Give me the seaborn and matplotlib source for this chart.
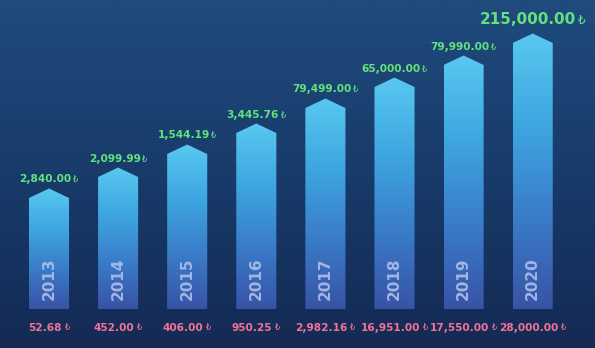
import numpy as np
import pandas as pd
import matplotlib
matplotlib.use("Agg")
import matplotlib.pyplot as plt
import seaborn as sns
from matplotlib.path import Path
from matplotlib.patches import PathPatch
from matplotlib.colors import LinearSegmentedColormap

# ---- data ----
years = ["2013", "2014", "2015", "2016", "2017", "2018", "2019", "2020"]
top_labels = ["2,840.00", "2,099.99", "1,544.19", "3,445.76", "79,499.00",
              "65,000.00", "79,990.00", "215,000.00"]
bottom_labels = ["52.68", "452.00", "406.00", "950.25", "2,982.16",
                 "16,951.00", "17,550.00", "28,000.00"]
# visual bar heights (staircase, as drawn in the picture)
bar_heights = [111, 132, 155, 176, 201, 222, 244, 266]
currency = "₺"

df = pd.DataFrame({"year": years, "height": bar_heights})

W, H = 595, 348
fig = plt.figure(figsize=(W / 100, H / 100), dpi=100)
ax = fig.add_axes([0, 0, 1, 1])

sns.barplot(data=df, x="year", y="height", ax=ax, width=0.58,
            color="#3b8fd6", saturation=1, zorder=2)

step = 69.1
x0 = -49 / step
x1 = x0 + W / step
ax.set_xlim(x0, x1)
ax.set_ylim(309 - H, 309)
ax.axis("off")

# background gradient
bg = LinearSegmentedColormap.from_list("bg", ["#1f4b7d", "#183b6a", "#142a54"])
grad = np.linspace(0, 1, 256).reshape(-1, 1)
ax.imshow(grad, aspect="auto", cmap=bg, extent=(x0, x1, 309 - H, 309),
          origin="upper", zorder=0)

bar_cmap = LinearSegmentedColormap.from_list(
    "bar", ["#58c8f0", "#3ea6e0", "#3a7cc8", "#3853a6"])
peak = 9.5

pairs = []
for i, p in enumerate(ax.patches):
    xl = p.get_x()
    w = p.get_width()
    h = p.get_height()
    p.set_visible(False)
    verts = [(xl, 0), (xl + w, 0), (xl + w, h), (xl + w / 2, h + peak),
             (xl, h), (xl, 0)]
    codes = [Path.MOVETO] + [Path.LINETO] * 4 + [Path.CLOSEPOLY]
    clip = PathPatch(Path(verts, codes), facecolor="none", edgecolor="none",
                     transform=ax.transData)
    ax.add_patch(clip)
    im = ax.imshow(grad, aspect="auto", cmap=bar_cmap,
                   extent=(xl, xl + w, 0, h + peak), origin="upper", zorder=3)
    im.set_clip_path(clip)

    cx = xl + w / 2
    big = i == len(years) - 1
    fs = 11 if big else 7.6
    ty = h + peak + (6 if big else 4)
    t1 = ax.text(cx, ty, top_labels[i], ha="left", va="bottom",
                 color="#62e27f", fontweight="bold", fontsize=fs, zorder=4)
    t2 = ax.text(cx, ty, currency, ha="left", va="bottom",
                 color="#62e27f", fontsize=fs * 0.78, zorder=4)
    pairs.append((cx, t1, t2, 2.0 if big else 1.5))
    b1 = ax.text(cx, -19, bottom_labels[i], ha="left", va="center",
                 color="#f27298", fontweight="bold", fontsize=7.6, zorder=4)
    b2 = ax.text(cx, -19, currency, ha="left", va="center",
                 color="#f27298", fontsize=7.6 * 0.78, zorder=4)
    pairs.append((cx, b1, b2, 3.0))
    ax.text(cx, 9, years[i], rotation=90, ha="center", va="bottom",
            color="#b4c4ec", alpha=0.85, fontweight="bold", fontsize=11,
            zorder=4)

# center number + small currency sign as a unit
fig.canvas.draw()
r = fig.canvas.get_renderer()
inv = ax.transData.inverted()
for cx, t1, t2, gap in pairs:
    w1 = t1.get_window_extent(r).width
    w2 = t2.get_window_extent(r).width
    tot = w1 + gap + w2
    cxd = ax.transData.transform((cx, 0))[0]
    y = t1.get_position()[1]
    yd = ax.transData.transform((0, y))[1]
    xa = inv.transform((cxd - tot / 2, yd))[0]
    xb = inv.transform((cxd - tot / 2 + w1 + gap, yd))[0]
    t1.set_position((xa, y))
    t2.set_position((xb, y))

ax.set_xlim(x0, x1)
ax.set_ylim(309 - H, 309)
fig.savefig("out.png", dpi=100)
